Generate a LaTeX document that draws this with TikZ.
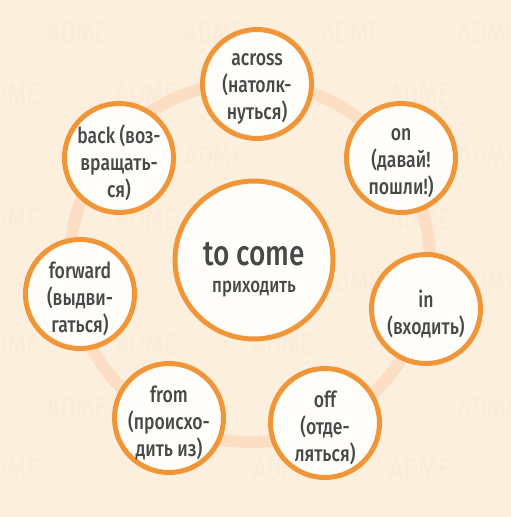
\documentclass[tikz,border=0pt]{standalone}
\usepackage{fontspec}
\setmainfont{Fira Sans Medium}[FakeStretch=0.8]
\newfontfamily\wmf{Fira Sans}[FakeStretch=0.8]
\definecolor{bg}{RGB}{253,239,222}
\definecolor{ringc}{RGB}{251,222,196}
\definecolor{orng}{RGB}{240,150,56}
\definecolor{txt}{RGB}{72,72,72}
\definecolor{fillw}{RGB}{255,253,250}
\definecolor{wm}{RGB}{251,235,217}
\begin{document}
\begin{tikzpicture}[x=1pt,y=-1pt,
  bub/.style={circle, draw=orng, line width=5pt, fill=fillw, minimum size=109pt, inner sep=0pt},
  hub/.style={bub, minimum size=158pt},
  lbl/.style={align=center, text=txt, inner sep=0pt, font=\fontsize{22}{27}\selectfont},
  wmark/.style={text=wm, inner sep=0pt, font=\wmf\fontsize{30}{30}\selectfont},
  ringline/.style={draw=ringc, line width=12pt}]
\fill[bg] (0,0) rectangle (511,517);
\useasboundingbox (0,0) rectangle (511,517);
% faint watermark grid
\foreach \n/\xx/\yy in {a/77/32, b/214/32, c/351/32, d/488/32,
    e/9/94.5, f/146/94.5, g/420/94.5,
    h/214/157, i/488/157,
    j/9/219.5, k/146/219.5, l/420/219.5,
    m/351/282, n/488/282,
    o/9/344.5, p/146/344.5, q/283/344.5,
    r/77/407, s/488/407,
    t/9/469.5, u/283/469.5, v/420/469.5}{
  \node[wmark] (wm\n) at (\xx,\yy) {ADME};
}
\path[ringline] (250,262) circle (180);
\node[hub] (c) at (254,260) {};
\node[lbl] (ct) at ([yshift=-10pt]c.center) {{\fontsize{35}{26}\selectfont to come}\\{\fontsize{21}{26}\selectfont приходить}};
\node[bub] (across) at (257,84) {};
\node[lbl] (acrosst) at ([yshift=-5pt]across.center) {across\\(натолк-\\нуться)};
\node[bub] (on) at (401,158) {};
\node[lbl] (ont) at ([yshift=-5pt]on.center) {on\\(давай!\\пошли!)};
\node[bub] (back) at (119,158) {};
\node[lbl] (backt) at ([yshift=-5pt]back.center) {back (воз-\\вращать-\\ся)};
\node[bub] (forward) at (80,294) {};
\node[lbl] (forwardt) at ([yshift=-5pt]forward.center) {forward\\(выдви-\\гаться)};
\node[bub] (in) at (426,309) {};
\node[lbl] (int) at ([yshift=-5pt]in.center) {in\\(входить)};
\node[bub] (from) at (169,418) {};
\node[lbl] (fromt) at ([yshift=-5pt]from.center) {from\\(происхо-\\дить из)};
\node[bub] (off) at (325,423) {};
\node[lbl] (offt) at ([yshift=-5pt]off.center) {off\\(отде-\\ляться)};
\end{tikzpicture}
\end{document}
